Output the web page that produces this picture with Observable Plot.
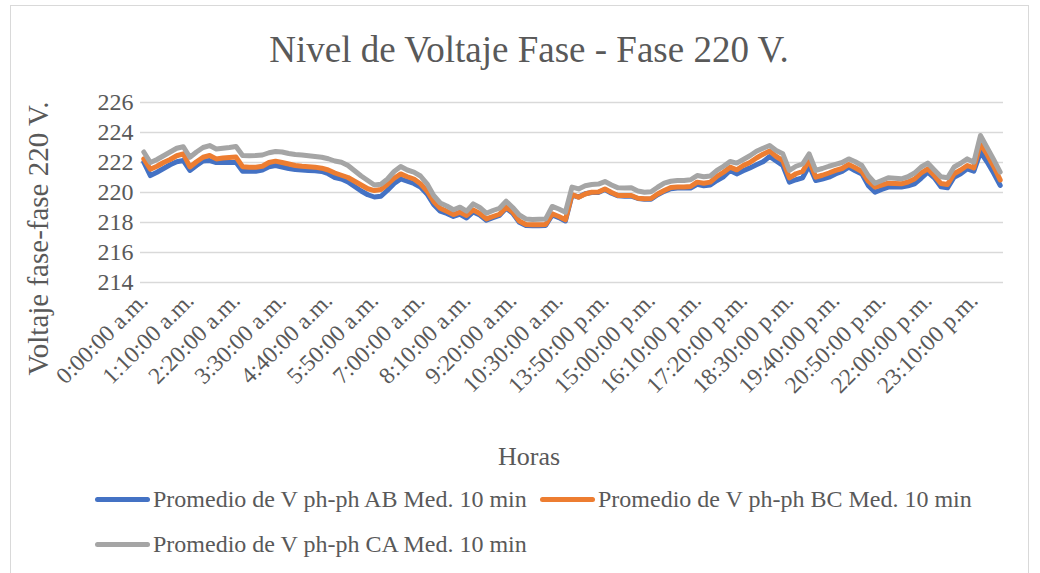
<!DOCTYPE html>
<html>
<head>
<meta charset="utf-8">
<script src="https://cdn.jsdelivr.net/npm/d3@7"></script>
<script src="https://cdn.jsdelivr.net/npm/@observablehq/plot@0.6"></script>
<style>
  html, body { margin: 0; padding: 0; background: #ffffff; }
  #wrap { position: relative; width: 1040px; height: 573px; overflow: hidden; background: #fff;
          font-family: "Liberation Serif", "Times New Roman", serif; color: #595959; }
  #frame { position: absolute; left: 10px; top: 5px; width: 1019px; height: 620px; border: 1px solid #d9d9d9; box-sizing: border-box; }
  #title { position: absolute; left: 0; top: 31px; width: 1058px; text-align: center; font-size: 37px; line-height: 37px; white-space: nowrap; }
  #chart { position: absolute; left: 0; top: 80px; }
  .leg { position: absolute; display: flex; align-items: center; height: 24px; font-size: 24px; line-height: 24px; white-space: nowrap; }
  .sw { width: 55px; height: 5px; border-radius: 3px; margin-right: 3px; }
</style>
</head>
<body>
<div id="wrap">
  <div id="frame"></div>
  <div id="title">Nivel de Voltaje Fase - Fase 220 V.</div>
  <div id="chart"></div>
  <div id="legend"></div>
</div>
<script>
// Categories (10-minute timestamps; 10:40–12:40 absent in the source)
const times = [
  "0:00","0:10","0:20","0:30","0:40","0:50",
  "1:00","1:10","1:20","1:30","1:40","1:50",
  "2:00","2:10","2:20","2:30","2:40","2:50",
  "3:00","3:10","3:20","3:30","3:40","3:50",
  "4:00","4:10","4:20","4:30","4:40","4:50",
  "5:00","5:10","5:20","5:30","5:40","5:50",
  "6:00","6:10","6:20","6:30","6:40","6:50",
  "7:00","7:10","7:20","7:30","7:40","7:50",
  "8:00","8:10","8:20","8:30","8:40","8:50",
  "9:00","9:10","9:20","9:30","9:40","9:50",
  "10:00","10:10","10:20","10:30",
  "12:50",
  "13:00","13:10","13:20","13:30","13:40","13:50",
  "14:00","14:10","14:20","14:30","14:40","14:50",
  "15:00","15:10","15:20","15:30","15:40","15:50",
  "16:00","16:10","16:20","16:30","16:40","16:50",
  "17:00","17:10","17:20","17:30","17:40","17:50",
  "18:00","18:10","18:20","18:30","18:40","18:50",
  "19:00","19:10","19:20","19:30","19:40","19:50",
  "20:00","20:10","20:20","20:30","20:40","20:50",
  "21:00","21:10","21:20","21:30","21:40","21:50",
  "22:00","22:10","22:20","22:30","22:40","22:50",
  "23:00","23:10","23:20","23:30","23:40","23:50"
];

const tickLabels = ["0:00","1:10","2:20","3:30","4:40","5:50","7:00","8:10","9:20","10:30",
  "13:50","15:00","16:10","17:20","18:30","19:40","20:50","22:00","23:10"];

const yTicks = [214, 216, 218, 220, 222, 224, 226];

const seriesNames = [
  "Promedio de V ph-ph AB Med. 10 min",
  "Promedio de V ph-ph BC Med. 10 min",
  "Promedio de V ph-ph CA Med. 10 min"
];
const seriesColors = ["#4472c4", "#ed7d31", "#a5a5a5"];

const AB = [
  222.02,221.13,221.35,221.60,221.85,222.05,222.13,221.47,221.80,222.10,
  222.13,222.00,222.00,222.00,222.02,221.42,221.42,221.42,221.50,221.72,
  221.80,221.70,221.60,221.53,221.50,221.47,221.45,221.40,221.25,221.00,
  220.90,220.70,220.40,220.10,219.85,219.70,219.75,220.15,220.60,220.90,
  220.75,220.60,220.36,219.90,219.20,218.75,218.60,218.40,218.55,218.30,
  218.70,218.50,218.15,218.32,218.48,218.95,218.62,218.02,217.80,217.78,
  217.78,217.80,218.50,218.33,218.10,219.82,219.70,219.92,220.00,220.00,
  220.20,219.95,219.78,219.75,219.75,219.60,219.55,219.55,219.85,220.08,
  220.25,220.30,220.30,220.30,220.55,220.45,220.50,220.80,221.05,221.47,
  221.24,221.45,221.64,221.85,222.05,222.40,222.10,221.80,220.69,220.85,
  220.98,221.80,220.80,220.90,221.02,221.24,221.40,221.69,221.45,221.24,
  220.45,220.02,220.20,220.36,220.36,220.36,220.45,220.58,220.95,221.36,
  220.98,220.38,220.31,221.02,221.25,221.58,221.42,222.69,222.05,221.30,
  220.47
];

const BC = [
  222.24,221.55,221.75,222.00,222.20,222.45,222.58,221.70,222.05,222.35,
  222.47,222.24,222.30,222.33,222.36,221.72,221.69,221.69,221.75,222.00,
  222.09,222.00,221.90,221.80,221.75,221.72,221.69,221.62,221.50,221.30,
  221.15,221.00,220.75,220.50,220.25,220.13,220.20,220.55,220.95,221.24,
  221.05,220.90,220.58,220.10,219.40,218.95,218.75,218.53,218.69,218.47,
  218.84,218.60,218.24,218.40,218.55,219.02,218.70,218.10,217.87,217.85,
  217.85,217.87,218.58,218.40,218.18,219.87,219.69,219.90,220.02,220.03,
  220.24,220.00,219.80,219.80,219.80,219.62,219.58,219.60,219.90,220.13,
  220.33,220.36,220.36,220.40,220.69,220.62,220.69,221.07,221.35,221.69,
  221.51,221.80,222.00,222.30,222.55,222.76,222.40,222.13,220.98,221.25,
  221.40,222.13,221.02,221.15,221.30,221.47,221.60,221.87,221.65,221.40,
  220.75,220.36,220.50,220.62,220.60,220.58,220.70,220.90,221.30,221.58,
  221.13,220.60,220.53,221.25,221.50,221.80,221.64,223.24,222.55,221.75,
  220.84
];

const CA = [
  222.70,222.00,222.20,222.45,222.70,222.95,223.05,222.35,222.70,223.00,
  223.13,222.90,222.95,223.00,223.07,222.47,222.45,222.47,222.50,222.65,
  222.73,222.70,222.60,222.53,222.50,222.45,222.40,222.35,222.25,222.10,
  222.02,221.80,221.45,221.10,220.80,220.50,220.55,220.90,221.40,221.73,
  221.50,221.36,221.10,220.58,219.80,219.30,219.10,218.85,219.02,218.76,
  219.24,219.00,218.62,218.80,218.95,219.42,219.00,218.50,218.24,218.20,
  218.22,218.24,219.07,218.90,218.69,220.36,220.24,220.45,220.53,220.56,
  220.73,220.50,220.31,220.30,220.31,220.10,220.02,220.05,220.35,220.62,
  220.75,220.80,220.80,220.85,221.13,221.05,221.10,221.47,221.75,222.07,
  221.96,222.20,222.45,222.75,222.95,223.13,222.80,222.58,221.47,221.75,
  221.90,222.58,221.47,221.60,221.75,221.87,222.00,222.24,222.05,221.80,
  221.10,220.62,220.80,220.98,220.95,220.91,221.05,221.30,221.70,221.96,
  221.50,221.05,220.98,221.70,221.95,222.24,222.02,223.80,223.00,222.20,
  221.36
];

const fmt = (t) => {
  const h = +t.split(":")[0];
  return t + ":00 " + (h < 12 ? "a.m." : "p.m.");
};

const toRows = (vals) => times.map((t, i) => ({ t, v: vals[i] }));
const lineOpts = (c) => ({ x: "t", y: "v", stroke: c, strokeWidth: 5, strokeLinejoin: "round", strokeLinecap: "round" });

const chart = Plot.plot({
  width: 1040,
  height: 400,
  marginLeft: 140,
  marginRight: 37,
  marginTop: 22,
  marginBottom: 198,
  style: { fontFamily: "'Liberation Serif','Times New Roman',serif", color: "#595959", background: "transparent", overflow: "visible" },
  x: { type: "point", domain: times, padding: 0.5 },
  y: { domain: [214, 226] },
  marks: [
    Plot.gridY(yTicks, { stroke: "#d9d9d9", strokeOpacity: 1, strokeWidth: 1.5 }),
    Plot.axisY(yTicks, { tickSize: 0, tickPadding: 7, fontSize: 24, label: null, fill: "#595959" }),
    Plot.axisX(tickLabels, { tickSize: 0, tickRotate: -45, tickPadding: 14, fontSize: 23.5, tickFormat: fmt, label: null, textAnchor: "end", fill: "#595959" }),
    Plot.lineY(toRows(AB), lineOpts(seriesColors[0])),
    Plot.lineY(toRows(BC), lineOpts(seriesColors[1])),
    Plot.lineY(toRows(CA), lineOpts(seriesColors[2])),
    Plot.text(["Horas"], { text: d => d, frameAnchor: "bottom", dx: -43, dy: 182, fontSize: 26, fill: "#595959" }),
    Plot.text(["Voltaje fase-fase 220 V."], { text: d => d, frameAnchor: "left", textAnchor: "middle", lineAnchor: "middle", dx: -102, dy: 46, rotate: -90, fontSize: 29, fill: "#595959" })
  ]
});
document.getElementById("chart").appendChild(chart);

// Legend
const legendPos = [[95, 487], [540, 487], [95, 532]];
const legend = document.getElementById("legend");
seriesNames.forEach((name, i) => {
  const d = document.createElement("div");
  d.className = "leg";
  d.style.left = legendPos[i][0] + "px";
  d.style.top = legendPos[i][1] + "px";
  const sw = document.createElement("div");
  sw.className = "sw";
  sw.style.background = seriesColors[i];
  const tx = document.createElement("span");
  tx.textContent = name;
  d.appendChild(sw);
  d.appendChild(tx);
  legend.appendChild(d);
});
</script>
</body>
</html>
